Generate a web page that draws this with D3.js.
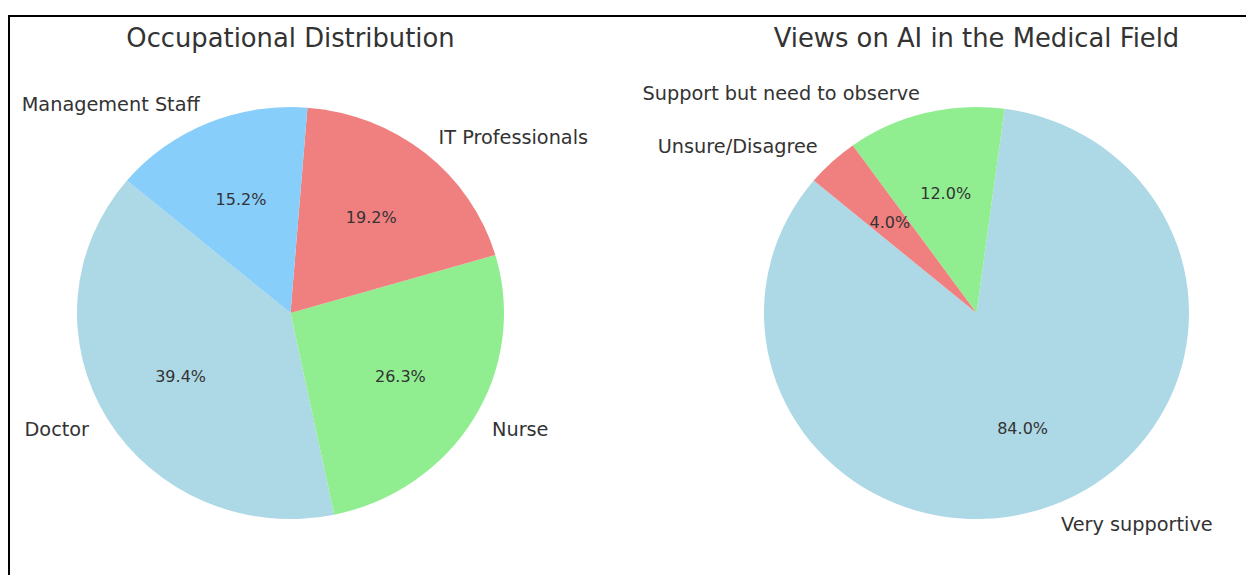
<!DOCTYPE html>
<html>
<head>
<meta charset="utf-8">
<script src="https://cdn.jsdelivr.net/npm/d3@7"></script>
<style>
  body { margin: 0; background: #fff; }
  text { font-family: "DejaVu Sans", sans-serif; fill: #333; }
</style>
</head>
<body>
<svg id="chart" width="1246" height="575"></svg>
<script>
var width = 1246, height = 575;

// chart 1
var occLabels = ['Doctor', 'Nurse', 'IT Professionals', 'Management Staff'];
var occValues = [39, 26, 19, 15];
var occColors = ['#add8e6', '#90ee90', '#f08080', '#87cefa'];

// chart 2
var viewLabels = ['Very supportive', 'Support but need to observe', 'Unsure/Disagree'];
var viewValues = [84, 12, 4];
var viewColors = ['#add8e6', '#90ee90', '#f08080'];

var svg = d3.select('#chart');

svg.append('rect').attr('width', width).attr('height', height).attr('fill', '#fff');

// frame (cropped screenshot border)
svg.append('line').attr('x1', 8).attr('x2', width).attr('y1', 16).attr('y2', 16)
    .attr('stroke', '#000').attr('stroke-width', 2);
svg.append('line').attr('x1', 9).attr('x2', 9).attr('y1', 15).attr('y2', height)
    .attr('stroke', '#000').attr('stroke-width', 2);

function drawPie(cx, cy, rx, ry, title, labels, values, colors) {
    var total = d3.sum(values);
    var start = 140 * Math.PI / 180;
    // matplotlib style: counterclockwise from startangle
    var pie = d3.pie().sort(null).value(d => d)
        .startAngle(Math.PI / 2 - start)
        .endAngle(Math.PI / 2 - start - 2 * Math.PI);
    var arcs = pie(values);
    var arc = d3.arc().innerRadius(0).outerRadius(ry);

    var g = svg.append('g').attr('transform', `translate(${cx},${cy})`);
    g.append('g').attr('transform', `scale(${rx / ry},1)`)
        .selectAll('path')
        .data(arcs)
        .join('path')
        .attr('d', arc)
        .attr('fill', (d, i) => colors[i]);

    arcs.forEach(function(a, i) {
        var mid = (a.startAngle + a.endAngle) / 2;
        var dx = Math.sin(mid), dy = -Math.cos(mid);
        g.append('text')
            .attr('x', dx * rx * 0.6)
            .attr('y', dy * ry * 0.6)
            .attr('text-anchor', 'middle')
            .attr('dominant-baseline', 'central')
            .style('font-size', '16px')
            .text((values[i] / total * 100).toFixed(1) + '%');
        g.append('text')
            .attr('x', dx * rx * 1.1)
            .attr('y', dy * ry * 1.1)
            .attr('text-anchor', dx > 0 ? 'start' : 'end')
            .attr('dominant-baseline', 'central')
            .style('font-size', '19.3px')
            .text(labels[i]);
    });

    svg.append('text')
        .attr('x', cx).attr('y', 47)
        .attr('text-anchor', 'middle')
        .style('font-size', '25.8px')
        .text(title);
}

drawPie(290.5, 313, 213.5, 206, 'Occupational Distribution', occLabels, occValues, occColors);
drawPie(976.5, 313, 212.5, 206, 'Views on AI in the Medical Field', viewLabels, viewValues, viewColors);
</script>
</body>
</html>
